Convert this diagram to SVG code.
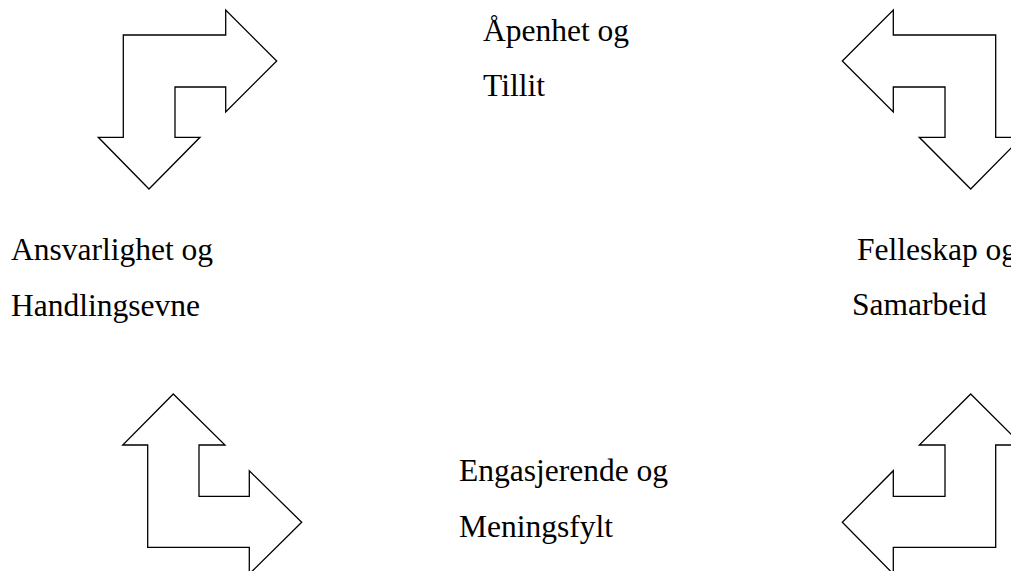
<svg xmlns="http://www.w3.org/2000/svg" width="1011" height="571" viewBox="0 0 1011 571">
<style>
.arrow{fill:#fff;stroke:#000;stroke-width:1.3;stroke-linejoin:miter}
.lbl{font-family:"Liberation Serif","Times New Roman",serif;font-size:31.5px;fill:#000}
</style>
<rect width="1011" height="571" fill="#fff"/>
<g id="connectors">
<g id="arrow-top-left"><polygon class="arrow" points="123.3,35 225.7,35 225.7,10 276.7,61 225.7,112 225.7,87 175,87 175,137.3 200,137.3 149,189 98.3,137.3 123.3,137.3"/></g>
<g id="arrow-top-right"><polygon class="arrow" points="893.3,35 995.7,35 995.7,137.3 1021.7,137.3 970.7,189 919.3,137.3 945,137.3 945,87 893.3,87 893.3,112 842.3,61 893.3,10"/></g>
<g id="arrow-bottom-left"><polygon class="arrow" points="173.3,394 225,445 199,445 199,496.3 249.3,496.3 249.3,470.7 301.7,522.3 249.3,574 249.3,547.3 147.7,547.3 147.7,445 122.7,445"/></g>
<g id="arrow-bottom-right"><polygon class="arrow" points="970.7,394 1022,445 995.7,445 995.7,547.3 893.3,547.3 893.3,574 842.3,522.3 893.3,470.7 893.3,496.3 945,496.3 945,445 919.3,445"/></g>
</g>
<g id="node-apenhet"><text class="lbl" x="483" y="41">Åpenhet og</text><text class="lbl" x="483" y="96">Tillit</text></g>
<g id="node-ansvarlighet"><text class="lbl" x="11" y="260">Ansvarlighet og</text><text class="lbl" x="11" y="316">Handlingsevne</text></g>
<g id="node-felleskap"><text class="lbl" x="857" y="260">Felleskap og</text><text class="lbl" x="852" y="315">Samarbeid</text></g>
<g id="node-engasjerende"><text class="lbl" x="459" y="481">Engasjerende og</text><text class="lbl" x="459" y="537">Meningsfylt</text></g>
</svg>
